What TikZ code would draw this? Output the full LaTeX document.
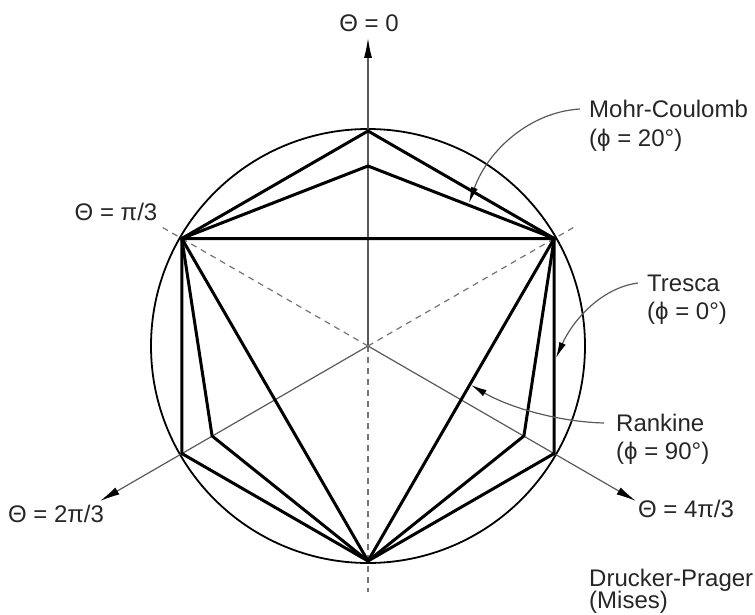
\documentclass[tikz,border=0pt]{standalone}
\usepackage{fontspec}
\setmainfont{Liberation Sans}
\usetikzlibrary{arrows.meta}
\begin{document}
\begin{tikzpicture}[x=1pt,y=-1pt,
  lbl/.style={inner sep=0pt,font=\fontsize{24}{28}\selectfont,text=black!85},
  thickpoly/.style={line width=3pt,line join=miter,black},
  axis/.style={line width=1.2pt,black!65},
  dashaxis/.style={line width=1.2pt,black!55,dash pattern=on 6pt off 5pt},
  axisarrow/.style={-{Latex[length=20pt,width=8pt,color=black]}},
  leader/.style={line width=1.2pt,black!65,-{Latex[length=16pt,width=7pt,color=black]}},
  rim/.style={line width=1.8pt,black}]
\useasboundingbox (0,0) rectangle (755,615);
% key points
\coordinate (C) at (368,346);
\coordinate (T0) at (368,131);
\coordinate (T1) at (554.2,238.5);
\coordinate (T2) at (554.2,453.5);
\coordinate (T3) at (368,561);
\coordinate (T4) at (181.8,453.5);
\coordinate (T5) at (181.8,238.5);
\coordinate (M0) at (368,166);
\coordinate (M2) at (523.9,436);
\coordinate (M4) at (212.1,436);
% axis ends
\coordinate (A0) at (368,38);
\coordinate (A2) at (100,501);
\coordinate (A4) at (636,501);
\coordinate (D1) at (160,226);
\coordinate (D5) at (576,226);
\coordinate (D3) at (368,592);
% Drucker-Prager circle
\draw[rim] (C) circle[radius=217];
% axes
\draw[axis,axisarrow] (C) -- (A0);
\draw[axis,axisarrow] (C) -- (A2);
\draw[axis,axisarrow] (C) -- (A4);
\draw[dashaxis] (C) -- (D1);
\draw[dashaxis] (C) -- (D5);
\draw[dashaxis] (C) -- (D3);
% Tresca
\draw[thickpoly] (T0) -- (T1) -- (T2) -- (T3) -- (T4) -- (T5) -- cycle;
% Mohr-Coulomb
\draw[thickpoly] (M0) -- (T1) -- (M2) -- (T3) -- (M4) -- (T5) -- cycle;
% Rankine
\draw[thickpoly] (T5) -- (T1) -- (T3) -- cycle;
% axis labels
\node[lbl] (l0) at (369,23) {Θ = 0};
\node[lbl] (l1) at (116,212) {Θ = π/3};
\node[lbl] (l2) at (56,514) {Θ = 2π/3};
\node[lbl] (l4) at (686,509) {Θ = 4π/3};
% criterion labels
\node[lbl,anchor=west] (mcA) at (589,109) {Mohr-Coulomb};
\node[lbl,anchor=west] (mcB) at (589,140) {(ϕ = 20°)};
\node[lbl,anchor=west] (trA) at (647,283) {Tresca};
\node[lbl,anchor=west] (trB) at (647,313) {(ϕ = 0°)};
\node[lbl,anchor=west] (rkA) at (616,423) {Rankine};
\node[lbl,anchor=west] (rkB) at (616,453) {(ϕ = 90°)};
\node[lbl,anchor=west] (dpA) at (589,580) {Drucker-Prager};
\node[lbl,anchor=west] (dpB) at (589,602) {(Mises)};
% leader tips
\coordinate (mcT) at (469,203);
\coordinate (trT) at (556,358);
\coordinate (rkT) at (471,385);
\coordinate (mcS) at ([xshift=-9pt]mcA.west);
\coordinate (trS) at ([xshift=-9pt]trA.west);
\coordinate (rkS) at ([xshift=-12pt]rkA.west);
\draw[leader] (mcS) .. controls (530,112) and (488,150) .. (mcT);
\draw[leader] (trS) .. controls (600,288) and (572,322) .. (trT);
\draw[leader] (rkS) .. controls (560,422) and (510,408) .. (rkT);
\end{tikzpicture}
\end{document}
